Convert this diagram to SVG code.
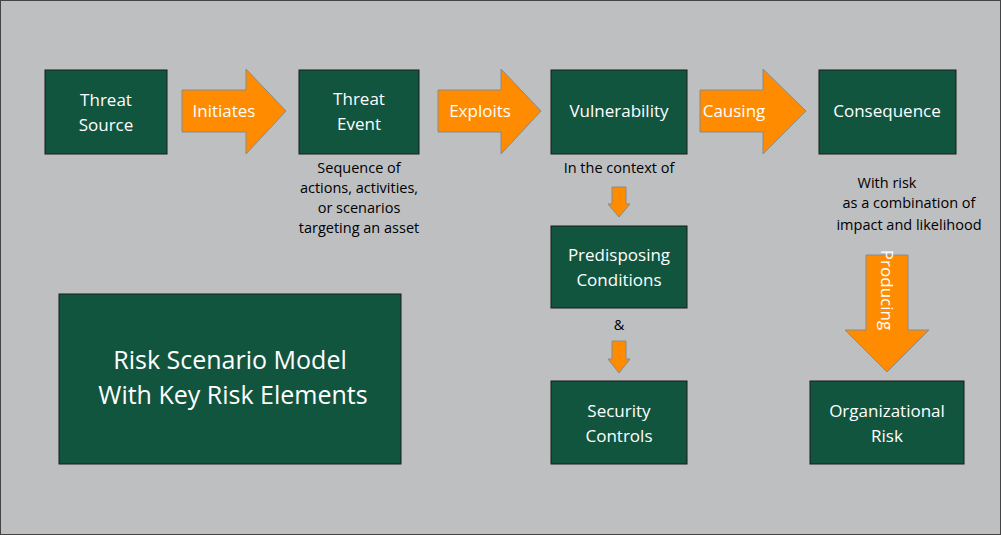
<svg xmlns="http://www.w3.org/2000/svg" width="1001" height="535" viewBox="0 0 1001 535">
<style>
.b{fill:#12553F;stroke:#1a1a1a;stroke-width:1}
.t{font-family:"Open Sans","Liberation Sans",sans-serif;font-size:17px;fill:#fff;text-anchor:middle}
.a{fill:#FF8C00;stroke:#8a8a8a;stroke-width:1}
.n{font-family:"Open Sans","Liberation Sans",sans-serif;font-size:14.5px;fill:#000;text-anchor:middle}
</style>
<rect x="0.5" y="0.5" width="1000" height="534" fill="#BEBFC1" stroke="#444"/>
<g id="connectors">
<path class="a" d="M182,90H246V69L286,111L246,154V132H182Z"/>
<text class="t" x="224" y="117">Initiates</text>
<path class="a" d="M438,90H501V69L541,111L501,154V132H438Z"/>
<text class="t" x="480" y="117">Exploits</text>
<path class="a" d="M700,90H763V69L806,111L763,154V132H700Z"/>
<text class="t" x="734" y="117">Causing</text>
<path class="a" d="M612,187H626V204H630L619,217L608,204H612Z"/>
<path class="a" d="M612,341H626V359H630L619,373L608,359H612Z"/>
<path class="a" d="M866,255H908V330H929L887,372L845,330H866Z"/>
<text class="t" transform="translate(881,290) rotate(90)">Producing</text>
</g>
<g id="threat-source"><rect class="b" x="45" y="70" width="122" height="84"/><text class="t" x="106" y="106">Threat</text><text class="t" x="106" y="131">Source</text></g>
<g id="threat-event"><rect class="b" x="299" y="70" width="120" height="84"/><text class="t" x="359" y="105">Threat</text><text class="t" x="359" y="130">Event</text></g>
<g id="vulnerability"><rect class="b" x="551" y="70" width="136" height="84"/><text class="t" x="619" y="117">Vulnerability</text></g>
<g id="consequence"><rect class="b" x="819" y="70" width="137" height="84"/><text class="t" x="887" y="117">Consequence</text></g>
<g id="predisposing"><rect class="b" x="551" y="226" width="136" height="82"/><text class="t" x="619" y="261">Predisposing</text><text class="t" x="619" y="286">Conditions</text></g>
<g id="security"><rect class="b" x="551" y="381" width="136" height="83"/><text class="t" x="619" y="417">Security</text><text class="t" x="619" y="442">Controls</text></g>
<g id="org-risk"><rect class="b" x="810" y="381" width="154" height="83"/><text class="t" x="887" y="417">Organizational</text><text class="t" x="887" y="442">Risk</text></g>
<g id="title"><rect class="b" x="59" y="294" width="342" height="170"/><text class="t" style="font-size:25px" x="230" y="369">Risk Scenario Model</text><text class="t" style="font-size:25px" x="233" y="404">With Key Risk Elements</text></g>
<g id="notes">
<text class="n" x="359" y="173">Sequence of</text><text class="n" x="359" y="193">actions, activities,</text><text class="n" x="359" y="213">or scenarios</text><text class="n" x="359" y="233">targeting an asset</text>
<text class="n" x="619" y="173">In the context of</text>
<text class="n" x="619" y="330">&amp;</text>
<text class="n" x="887" y="188">With risk</text><text class="n" x="909" y="208">as a combination of</text><text class="n" x="909" y="230">impact and likelihood</text>
</g>
</svg>
